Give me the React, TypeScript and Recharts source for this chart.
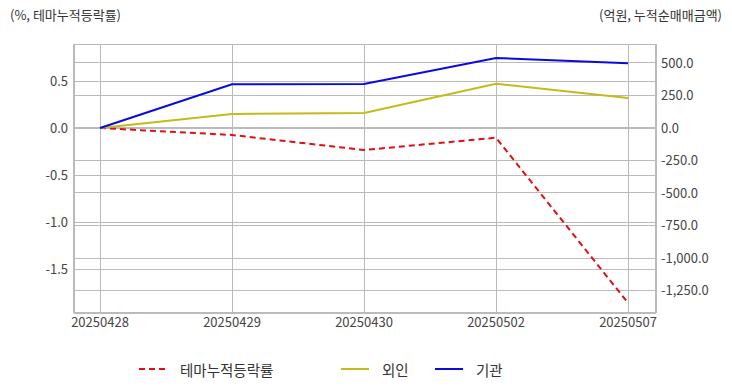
import React from 'react';
import { LineChart, Line, XAxis, YAxis, CartesianGrid, Legend } from 'recharts';

const dates = ['20250428', '20250429', '20250430', '20250502', '20250507'];
const themeRate = [0, -0.074, -0.234, -0.103, -1.86];
const foreign = [0, 108, 115, 341, 231];
const institution = [0, 336, 338, 538, 498];

const leftTicks = [-1.5, -1.0, -0.5, 0, 0.5];
const rightTicks = [-1250, -1000, -750, -500, -250, 0, 250, 500];
const leftDomain = [-1.968, 0.894];
const rightDomain = [-1423, 646];

const data = dates.map((d, i) => ({
  date: d,
  theme: themeRate[i],
  foreign: foreign[i],
  inst: institution[i],
}));

const FONT = '"Noto Sans CJK KR", "Noto Sans", sans-serif';
const GRID = '#bbbbbb';
const TICK = { fill: '#444', fontSize: 13, fontFamily: FONT };

const legendItems = [
  { label: '테마누적등락률', color: '#e01010', dashed: true, width: 202 },
  { label: '외인', color: '#c2bb1a', dashed: false, width: 94 },
  { label: '기관', color: '#0a0ae0', dashed: false, width: 80 },
];

const renderLegend = () => (
  <div style={{ display: 'flex', paddingLeft: 139, height: 20, alignItems: 'center', fontFamily: FONT, fontSize: 14.5, color: '#333' }}>
    {legendItems.map((it) => (
      <div key={it.label} style={{ display: 'flex', alignItems: 'center', width: it.width }}>
        <svg width={28} height={4} style={{ marginRight: 13 }}>
          <line x1={0} y1={2} x2={28} y2={2} stroke={it.color} strokeWidth={2} strokeDasharray={it.dashed ? '6 4' : undefined} />
        </svg>
        <span>{it.label}</span>
      </div>
    ))}
  </div>
);

const fmtLeft = (v: number) => v.toFixed(1);
const fmtRight = (v: number) => v.toLocaleString('en-US', { minimumFractionDigits: 1, maximumFractionDigits: 1 });

const App: React.FC = () => {
  return (
    <div style={{ position: 'absolute', left: 0, top: 0, width: 732, height: 392, background: '#fff' }}>
      <LineChart width={732} height={392} data={data} margin={{ top: 44, right: 0, left: 0, bottom: 49 }}>
        <CartesianGrid stroke={GRID} yAxisId="left" shapeRendering="crispEdges" />
        <CartesianGrid stroke={GRID} yAxisId="right" vertical={false} shapeRendering="crispEdges" />
        <XAxis
          dataKey="date"
          padding={{ left: 26, right: 28 }}
          height={30}
          tickLine={false}
          tickMargin={-1}
          tick={TICK}
          axisLine={{ stroke: GRID, strokeWidth: 2 }}
          interval={0}
        />
        <YAxis
          yAxisId="left"
          width={74}
          type="number"
          domain={leftDomain}
          ticks={leftTicks}
          tickFormatter={fmtLeft}
          tickLine={false}
          tickMargin={0}
          tick={TICK}
          axisLine={{ stroke: GRID, strokeWidth: 2 }}
          label={{
            content: () => (
              <text x={10} y={20} fill="#333" fontSize={13} fontFamily={FONT}>(%, 테마누적등락률)</text>
            ),
          }}
        />
        <YAxis
          yAxisId="right"
          orientation="right"
          type="number"
          width={76}
          domain={rightDomain}
          ticks={rightTicks}
          tickFormatter={fmtRight}
          tickLine={false}
          tickMargin={-1}
          tick={TICK}
          axisLine={{ stroke: GRID, strokeWidth: 2 }}
          label={{
            content: () => (
              <text x={722} y={20} textAnchor="end" fill="#333" fontSize={13} fontFamily={FONT}>(억원, 누적순매매금액)</text>
            ),
          }}
        />
        <Legend
          verticalAlign="middle"
          layout="horizontal"
          content={renderLegend}
          wrapperStyle={{ top: 359, left: 0, width: 732 }}
        />
        <Line yAxisId="left" dataKey="theme" name="테마누적등락률" stroke="#e01010" strokeWidth={2} strokeDasharray="6 4" dot={false} isAnimationActive={false} />
        <Line yAxisId="right" dataKey="foreign" name="외인" stroke="#c2bb1a" strokeWidth={2} dot={false} isAnimationActive={false} />
        <Line yAxisId="right" dataKey="inst" name="기관" stroke="#0a0ae0" strokeWidth={2} dot={false} isAnimationActive={false} />
      </LineChart>
    </div>
  );
};

export default App;
